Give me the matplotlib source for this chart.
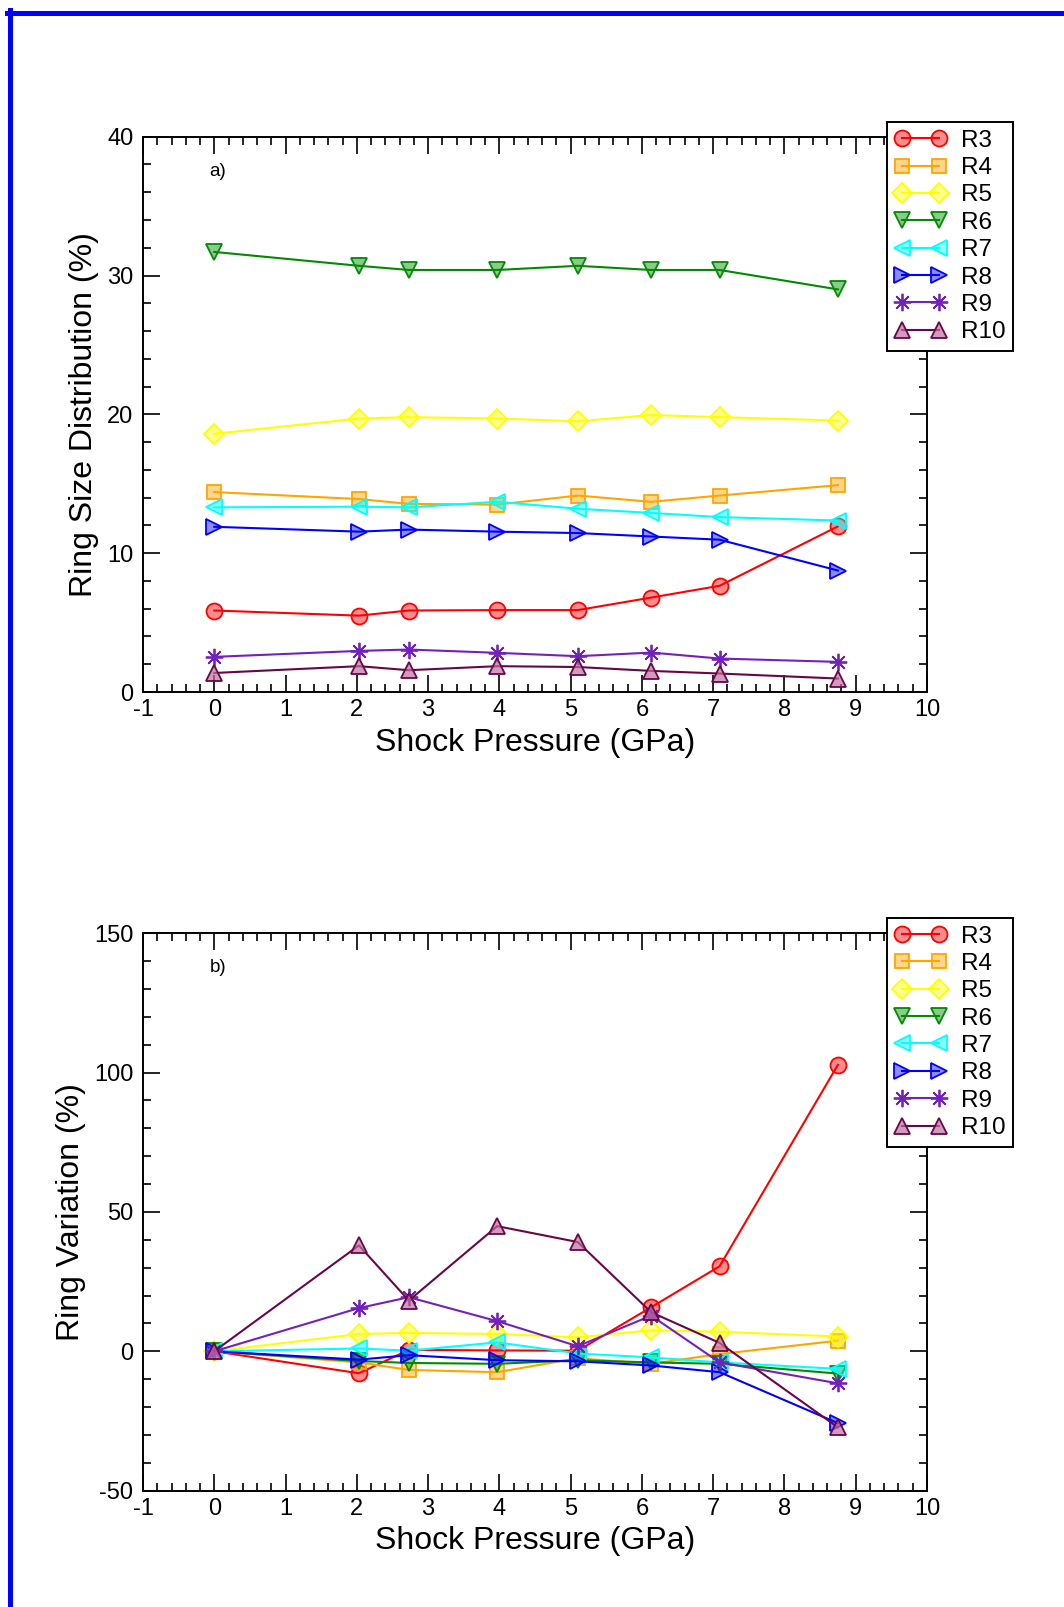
import numpy as np
import matplotlib.pyplot as plt
from matplotlib.colors import to_rgba
from matplotlib.lines import Line2D
from matplotlib.ticker import MultipleLocator

plt.rcParams['font.family'] = ['Liberation Sans', 'DejaVu Sans']
plt.rcParams['axes.unicode_minus'] = False

# shock pressure (GPa)
pressure = [0, 2.03, 2.73, 3.97, 5.1, 6.13, 7.09, 8.75]
names = ['R3', 'R4', 'R5', 'R6', 'R7', 'R8', 'R9', 'R10']

# a) ring size distribution (%)
dist_r3 = [5.87, 5.5, 5.87, 5.9, 5.9, 6.8, 7.65, 11.93]
dist_r4 = [14.4, 13.9, 13.55, 13.5, 14.15, 13.7, 14.15, 14.9]
dist_r5 = [18.6, 19.7, 19.8, 19.7, 19.5, 19.95, 19.8, 19.55]
dist_r6 = [31.7, 30.7, 30.4, 30.4, 30.7, 30.4, 30.4, 29.0]
dist_r7 = [13.3, 13.35, 13.3, 13.7, 13.2, 12.9, 12.6, 12.35]
dist_r8 = [11.9, 11.55, 11.7, 11.55, 11.45, 11.2, 10.97, 8.75]
dist_r9 = [2.53, 2.96, 3.06, 2.82, 2.58, 2.84, 2.41, 2.17]
dist_r10 = [1.37, 1.86, 1.57, 1.86, 1.8, 1.52, 1.33, 0.97]

# b) ring variation (%)
var_r3 = [0, -7.9, 0.5, 0.3, 0.2, 15.8, 30.5, 102.8]
var_r4 = [0, -4.0, -6.7, -7.5, -2.5, -4.5, -1.0, 3.8]
var_r5 = [0, 6.2, 6.6, 6.2, 5.0, 7.5, 7.0, 5.3]
var_r6 = [0, -3.5, -4.2, -4.5, -3.2, -4.0, -4.5, -8.0]
var_r7 = [0, 1.0, 0.2, 3.2, -0.8, -2.2, -4.0, -6.3]
var_r8 = [0, -3.0, -1.4, -3.2, -3.6, -5.1, -7.5, -25.8]
var_r9 = [0, 15.5, 19.4, 10.8, 1.8, 12.8, -4.0, -11.5]
var_r10 = [0, 38.0, 18.2, 44.9, 39.2, 14.0, 3.0, -27.3]

dist = [dist_r3, dist_r4, dist_r5, dist_r6, dist_r7, dist_r8, dist_r9, dist_r10]
var = [var_r3, var_r4, var_r5, var_r6, var_r7, var_r8, var_r9, var_r10]

colors = ['#ff0000', '#ffa500', '#ffff00', '#008b00', '#00ffff', '#0000ff',
          '#7221bc', '#670748']
markers = ['o', 's', 'D', 'v', '<', '>', (8, 2, 0), '^']
msizes = [11.5, 10, 10.5, 11, 11, 11, 12.5, 11]

fig = plt.figure(figsize=(10.64, 16.07), dpi=100)

W, H = 1064.0, 1607.0
ax1 = fig.add_axes([143 / W, 1 - 692 / H, 784 / W, 555.3 / H])
ax2 = fig.add_axes([143 / W, 1 - 1490.6 / H, 784 / W, 557.3 / H])


def draw(ax, data, ylim, ymaj, ymin, ylabel, tag, legtop):
    for i in range(len(names)):
        c = colors[i]
        fc = to_rgba(c, 0.45)
        if i == 7:
            fc = to_rgba('#c070a0', 0.7)
        ax.plot(pressure, data[i], color=c, lw=1.5, marker=markers[i],
                ms=msizes[i], mfc=fc, mec=c, mew=1.3, label=names[i])
    ax.set_xlim(-1, 10)
    ax.set_ylim(*ylim)
    ax.xaxis.set_major_locator(MultipleLocator(1))
    ax.xaxis.set_minor_locator(MultipleLocator(0.2))
    ax.yaxis.set_major_locator(MultipleLocator(ymaj))
    ax.yaxis.set_minor_locator(MultipleLocator(ymin))
    ax.tick_params(which='both', direction='in', top=True, right=True,
                   width=1.2, labelsize=17)
    ax.tick_params(which='major', length=12)
    ax.tick_params(which='minor', length=6)
    ax.tick_params(axis='x', pad=5)
    ax.tick_params(axis='y', pad=7)
    for s in ax.spines.values():
        s.set_linewidth(1.4)
    ax.set_xlabel('Shock Pressure (GPa)', fontsize=23, labelpad=5)
    ax.set_ylabel(ylabel, fontsize=23, labelpad=6)
    ax.text(0.085, 0.93, tag, transform=ax.transAxes, fontsize=13.5)
    leg = ax.legend(loc='upper left', bbox_to_anchor=(887 / W, 1 - legtop / H),
                    bbox_transform=fig.transFigure, borderaxespad=0,
                    numpoints=2, handlelength=2.1, handletextpad=0.6,
                    labelspacing=0.22, borderpad=0.33, fontsize=17.5,
                    fancybox=False, framealpha=1, edgecolor='black')
    leg.get_frame().set_linewidth(1.4)


draw(ax1, dist, (0, 40), 10, 2, 'Ring Size Distribution (%)', 'a)', 121.7)
draw(ax2, var, (-50, 150), 50, 10, 'Ring Variation (%)', 'b)', 917.5)

# blue frame along the left and top edges
fig.add_artist(Line2D([9.5 / W, 9.5 / W], [0, 1 - 10 / H],
                      transform=fig.transFigure, color='#0000ff', lw=3.6))
fig.add_artist(Line2D([7 / W, 1], [1 - 12.5 / H, 1 - 12.5 / H],
                      transform=fig.transFigure, color='#0000ff', lw=3.6))

fig.savefig('out.png', dpi=100)
